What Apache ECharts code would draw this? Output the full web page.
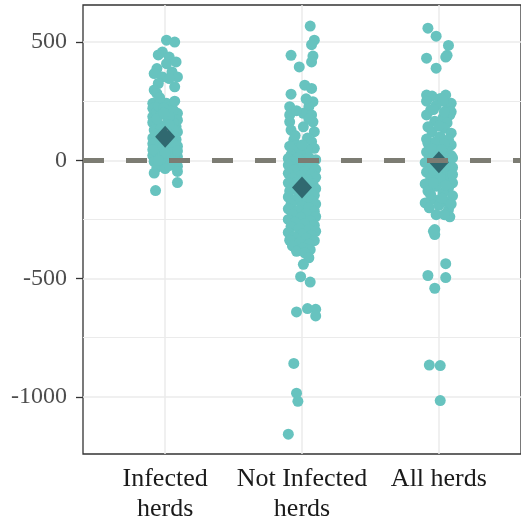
<!DOCTYPE html>
<html>
<head>
<meta charset="utf-8">
<script src="https://cdn.jsdelivr.net/npm/echarts@6/dist/echarts.min.js"></script>
<style>html,body{margin:0;padding:0;background:#fff}#c{width:521px;height:521px}</style>
</head>
<body>
<div id="c"></div>
<script>
var categories = ['Infected\nherds', 'Not Infected\nherds', 'All herds'];
var yTicks = [-1000, -500, 0, 500];
var yMinor = [-750, -250, 250];
var meanValues = [100, -115, -8];

// [jitter offset, value]
var infectedPoints = [[0.01,508],[0.07,500],[-0.02,458],[-0.05,446],[0.03,437],[0.01,409],[0.08,416],[-0.06,388],[-0.08,367],[0.05,374],[0.09,353],[-0.02,353],[0.03,346],[-0.05,325],[0.07,311],[-0.08,297],[-0.06,283],
 [-0.09,241],[0.01,241],[0.04,227],[0.09,199],[-0.09,185],[0.08,142],[-0.09,220],[-0.06,205],[0.06,212],[-0.03,195],[0.09,170],[-0.09,160],[-0.04,150],[0.02,175],[0.06,160],[-0.08,128],[0.09,120],[-0.02,115],[0.04,105],[-0.09,95],[0.08,88],[-0.05,80],[0.02,70],[0.09,60],[-0.08,55],[-0.01,48],[0.06,40],[-0.07,32],[0.04,25],[-0.09,20],[0.09,15],[-0.03,10],[0.01,5],[0.07,0],[-0.08,-5],[-0.02,-12],[0.05,-18],[0.09,-25],[-0.06,-30],[0.00,-35],
 [-0.05,230],[0.07,250],[-0.01,220],[0.03,185],[-0.06,175],[0.06,130],[-0.03,135],[0.01,90],[-0.07,110],[0.07,100],[-0.02,60],[0.05,75],[-0.09,70],[0.00,30],[-0.05,0],[0.08,-8],[0.03,-22],[-0.09,45],[0.09,40],[0.03,150],[-0.01,200],[-0.04,265],
 [-0.08,-54],[0.09,-47],[0.09,-94],[-0.07,-128]];

var notInfectedPoints = [[0.06,568],[0.09,508],[0.07,489],[-0.08,444],[0.08,441],[0.07,416],[-0.02,395],[0.02,318],[0.07,304],[-0.08,280],[0.08,248],[-0.09,227],[0.05,227],[-0.09,192],[0.01,199],[0.07,192],[-0.09,163],[0.08,163],[-0.08,128],[0.01,142],[0.09,121],[-0.06,86],[0.04,94],[0.07,79],[-0.03,51],[0.09,51],[0.04,44],[-0.08,23],[-0.01,23],
 [-0.04,210],[0.03,260],[-0.05,105],[0.05,175],[0.00,65],[-0.09,60],
 [-0.10,8],[-0.03,10],[0.05,12],[0.10,3],[-0.07,-5],[0.01,-8],[0.08,-15],[-0.10,-20],[-0.02,-25],[0.05,-30],
 [0.10,-38],[-0.06,-40],[0.02,-48],[-0.10,-55],[0.07,-58],[-0.01,-65],[0.10,-72],[-0.07,-75],[0.04,-82],[-0.03,-90],[-0.10,-95],[0.08,-98],
 [0.01,-105],[-0.06,-112],[0.10,-120],[-0.09,-130],[0.05,-132],[-0.02,-140],[0.09,-148],[-0.10,-155],[0.02,-160],[-0.05,-168],[0.07,-172],[0.10,-185],
 [-0.08,-185],[0.00,-192],[0.05,-200],[-0.10,-205],[-0.03,-212],[0.09,-215],[0.03,-225],[-0.07,-230],[0.10,-238],[-0.01,-242],[-0.10,-250],[0.06,-255],
 [-0.05,-262],[0.02,-268],[0.09,-275],[-0.08,-280],[-0.02,-288],[0.05,-292],[0.10,-300],[-0.10,-305],[0.00,-312],[0.07,-318],[-0.06,-322],[0.03,-330],
 [-0.09,-338],[0.09,-340],[-0.02,-348],[0.05,-355],[-0.07,-362],[0.01,-370],[0.06,-378],[-0.04,-385],[0.02,-391],[0.05,-412],[0.01,-440],
 [-0.01,-492],[0.06,-515],[-0.04,-641],[0.04,-627],[0.10,-630],[0.10,-658],[-0.06,-859],[-0.04,-985],[-0.03,-1019],[-0.10,-1158]];

var allHerdsPoints = [[-0.08,559],[-0.02,525],[0.07,486],[0.06,444],[-0.09,432],[0.05,437],[-0.02,390],
 [-0.09,276],[-0.05,272],[0.05,276],[0.01,262],[0.09,241],[-0.09,250],[0.07,225],[-0.02,232],[-0.06,212],[0.09,205],[-0.09,192],[0.08,192],[0.03,180],[-0.03,165],[0.06,158],[-0.08,142],[0.04,136],[0.09,115],[-0.05,120],[0.01,100],[-0.09,90],[0.07,88],[-0.08,72],[0.09,65],[0.00,58],[0.06,40],[-0.09,35],[-0.03,28],[0.09,20],[0.04,12],[-0.07,5],[0.08,-5],[-0.10,-10],[0.02,-18],[-0.05,-28],[0.10,-30],[0.05,-42],[-0.09,-50],[-0.01,-58],[0.08,-65],[-0.06,-75],[0.03,-85],[0.10,-95],[-0.10,-100],[-0.02,-110],[0.07,-118],[-0.08,-130],[0.03,-138],[0.10,-150],[-0.04,-165],[0.06,-175],[-0.10,-180],[0.00,-190],[-0.07,-201],[0.07,-209],[-0.02,-230],[0.08,-239],
 [0.03,250],[-0.04,215],[0.04,205],[0.00,145],[-0.02,80],[0.04,70],[-0.05,50],[0.02,45],[0.00,0],[0.10,10],[-0.04,-40],[0.10,-60],[0.01,-75],[-0.04,-95],[0.05,-105],[-0.06,-145],[0.02,-160],[0.09,-185],[0.04,-230],
 [-0.03,-293],[-0.03,-314],[-0.04,-300],
 [0.05,-437],[-0.08,-487],[0.05,-496],[-0.03,-541],[-0.07,-866],[0.01,-868],[0.01,-1016]];

var groups = [infectedPoints, notInfectedPoints, allHerdsPoints];
var pointData = [];
groups.forEach(function (g, idx) {
  g.forEach(function (p) { pointData.push([idx + 1 + p[0], p[1]]); });
});
var meanData = meanValues.map(function (v, i) { return [i + 1, v]; });

var gridLines = [];
yTicks.forEach(function (v) { gridLines.push({ yAxis: v, lineStyle: { width: 1.5 } }); });
yMinor.forEach(function (v) { gridLines.push({ yAxis: v, lineStyle: { width: 1.1 } }); });
categories.forEach(function (c, i) { gridLines.push({ xAxis: i + 1, lineStyle: { width: 1.5 } }); });

var serif = '"Liberation Serif", "DejaVu Serif", serif';
var chart = echarts.init(document.getElementById('c'), null, { renderer: 'canvas' });
chart.setOption({
  animation: false,
  grid: { left: 83, top: 5, right: 0, bottom: 67, containLabel: false, outerBoundsMode: 'none',
    show: true, borderColor: '#333333', borderWidth: 1.3, backgroundColor: '#fff' },
  xAxis: {
    type: 'value', min: 0.4, max: 3.6,
    axisLine: { show: false },
    splitLine: { show: false },
    axisTick: { show: true, length: 7, lineStyle: { color: '#333333', width: 1.3 }, customValues: [1, 2, 3] },
    axisLabel: {
      customValues: [1, 2, 3],
      formatter: function (v) { return categories[Math.round(v) - 1] || ''; },
      fontFamily: serif, fontSize: 26, color: '#1a1a1a', lineHeight: 30, margin: 10
    }
  },
  yAxis: {
    type: 'value', min: -1242, max: 657,
    axisLine: { show: false },
    splitLine: { show: false },
    axisTick: { show: true, length: 7, lineStyle: { color: '#333333', width: 1.3 }, customValues: yTicks },
    axisLabel: {
      customValues: yTicks,
      formatter: function (v) { return String(v); },
      fontFamily: serif, fontSize: 24, color: '#4d4d4d', margin: 16
    }
  },
  series: [
    {
      type: 'scatter', data: [], z: 1, silent: true,
      markLine: { z: 1, silent: true, symbol: 'none', label: { show: false }, animation: false,
        lineStyle: { color: '#ebebeb', type: 'solid' }, data: gridLines }
    },
    {
      type: 'scatter', data: pointData, z: 2, symbol: 'circle', symbolSize: 11,
      itemStyle: { color: '#67c3bf', opacity: 1 }
    },
    {
      type: 'scatter', data: meanData, z: 3, symbol: 'diamond', symbolSize: [20, 22],
      itemStyle: { color: '#23525d' }
    },
    {
      type: 'scatter', data: [], z: 4, silent: true,
      markLine: { z: 10, silent: true, symbol: 'none', label: { show: false }, animation: false,
        lineStyle: { color: '#7c7c73', width: 5, type: [21, 22] }, data: [{ yAxis: 0 }] }
    }
  ]
});
</script>
</body>
</html>
